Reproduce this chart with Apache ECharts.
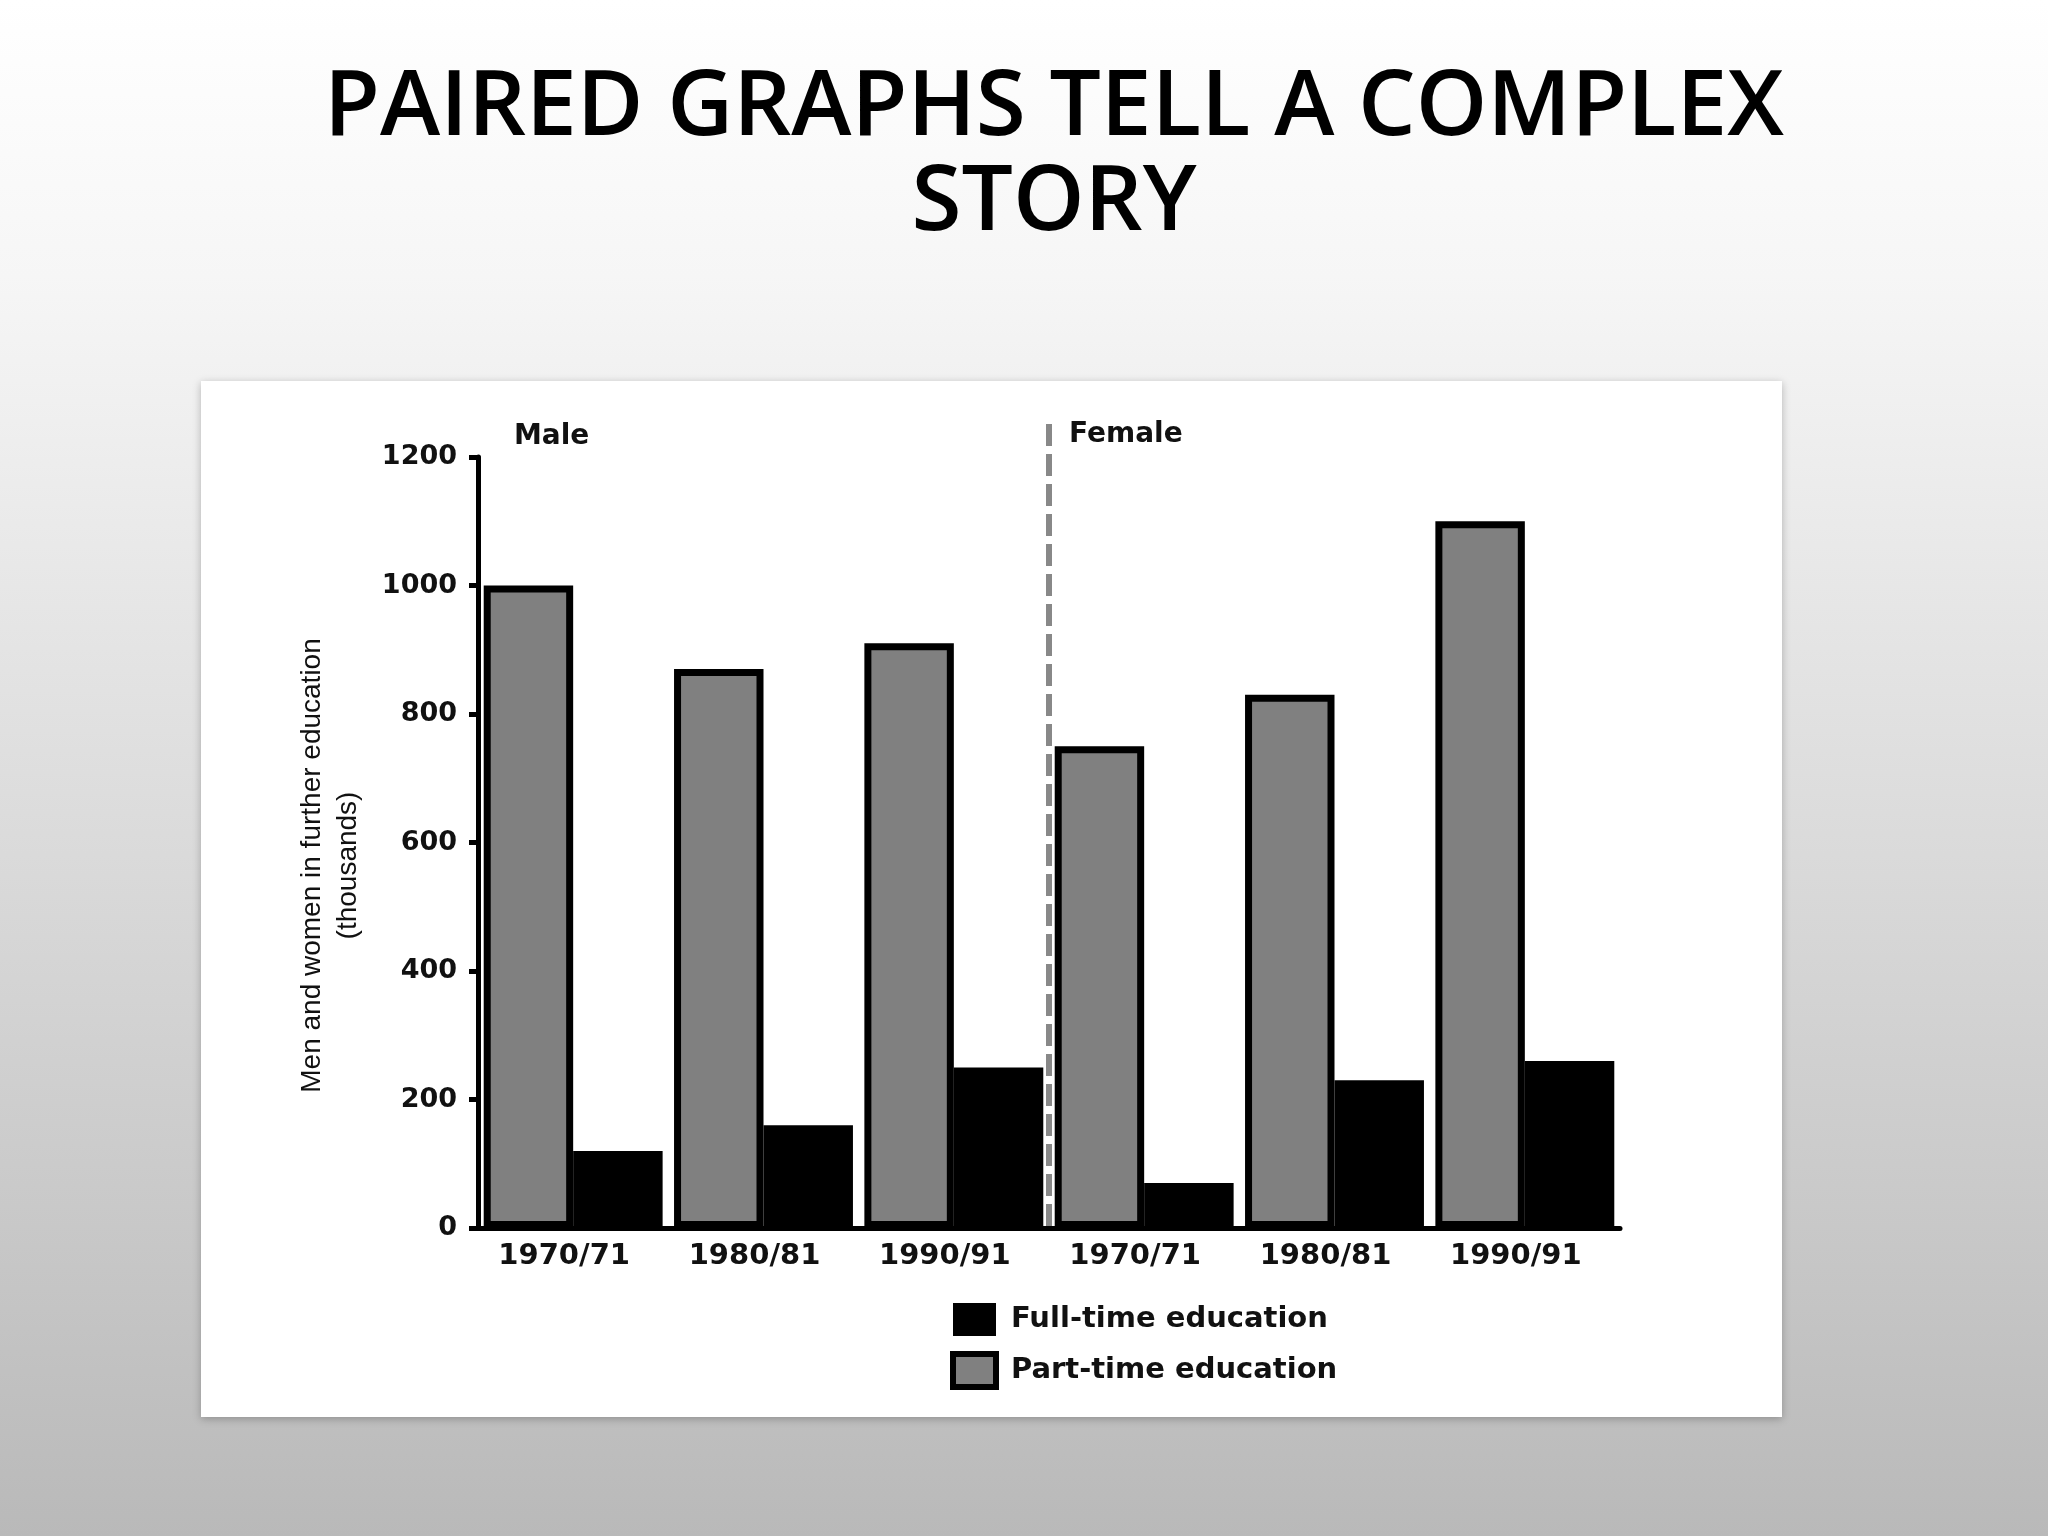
<!DOCTYPE html>
<html>
<head>
<meta charset="utf-8">
<script src="https://cdn.jsdelivr.net/npm/echarts@6/dist/echarts.min.js"></script>
<style>
  html, body { margin: 0; padding: 0; width: 2048px; height: 1536px; overflow: hidden;
    background: linear-gradient(to bottom, #ffffff 0%, #f6f6f6 18%, #b9b9b9 100%); }
  #chart { width: 2048px; height: 1536px; }
</style>
</head>
<body>
<div id="chart"></div>
<script>
// ---- data ----
const categories = ['1970/71', '1980/81', '1990/91', '1970/71', '1980/81', '1990/91'];
const groupLabels = ['Male', 'Female'];
const partTime = [1000, 870, 910, 750, 830, 1100];
const fullTime = [120, 160, 250, 70, 230, 260];
const yTicks = { min: 0, max: 1200, interval: 200 };
const titleText = 'PAIRED GRAPHS TELL A COMPLEX\nSTORY';
const yAxisName = 'Men and women in further education\n(thousands)';

const chart = echarts.init(document.getElementById('chart'));
const boldFont = "'DejaVu Sans', Verdana, sans-serif";
const nameFont = "'Liberation Sans', Arial, sans-serif";

const option = {
  animation: false,
  title: {
    text: titleText,
    left: 1049,
    top: 57,
    textAlign: 'center',
    textStyle: {
      fontFamily: "'Open Sans', 'Noto Sans', sans-serif",
      fontSize: 91,
      fontWeight: 600,
      lineHeight: 95,
      color: '#000'
    }
  },
  graphic: [{
    type: 'rect', z: -10, silent: true,
    shape: { x: 201, y: 381, width: 1581, height: 1036 },
    style: { fill: '#ffffff', shadowBlur: 8, shadowColor: 'rgba(0,0,0,0.25)', shadowOffsetY: 2 }
  }],
  grid: { left: 478, right: 428, top: 457, bottom: 308, containLabel: false },
  legend: {
    orient: 'vertical',
    left: 945, top: 1298,
    itemWidth: 43, itemHeight: 33, itemGap: 15,
    icon: 'rect',
    data: [
      { name: 'Full-time education', itemStyle: { color: '#000', borderWidth: 0 } },
      { name: 'Part-time education', itemStyle: { color: '#808080', borderColor: '#000', borderWidth: 6 } }
    ],
    textStyle: { fontFamily: boldFont, fontSize: 29, fontWeight: 'bold', color: '#111', padding: [0, 0, 0, 10] }
  },
  xAxis: {
    type: 'category',
    data: categories,
    axisLine: { lineStyle: { color: '#000', width: 5 } },
    axisTick: { show: false },
    axisLabel: { fontFamily: boldFont, fontSize: 29, fontWeight: 'bold', color: '#111', margin: 14, interval: 0, padding: [0, 18, 0, 0] }
  },
  yAxis: {
    type: 'value',
    min: yTicks.min, max: yTicks.max, interval: yTicks.interval,
    name: yAxisName,
    nameLocation: 'middle',
    nameGap: 112,
    nameRotate: 90,
    nameTextStyle: { fontFamily: nameFont, fontSize: 28, color: '#111', lineHeight: 36, padding: [0, 46, 0, 0] },
    axisLine: { show: true, lineStyle: { color: '#000', width: 5 } },
    axisTick: { show: true, length: 9, lineStyle: { color: '#000', width: 5 } },
    splitLine: { show: false },
    axisLabel: {
      fontFamily: boldFont, fontSize: 27, fontWeight: 'bold', color: '#111', margin: 21,
      formatter: v => String(v)
    }
  },
  series: [
    {
      name: 'Part-time education', type: 'bar',
      data: partTime,
      barWidth: '47%', barGap: '0%',
      itemStyle: { color: '#808080', borderColor: '#000', borderWidth: 7 }
    },
    {
      name: 'Full-time education', type: 'bar',
      data: fullTime,
      barWidth: '47%', barGap: '0%',
      itemStyle: { color: '#000' }
    }
  ]
};
chart.setOption(option);

// separator between the Male and Female groups, and group labels
const p2 = chart.convertToPixel({ xAxisIndex: 0 }, 2);
const p3 = chart.convertToPixel({ xAxisIndex: 0 }, 3);
const sepX = (p2 + p3) / 2;
const y0 = chart.convertToPixel({ yAxisIndex: 0 }, 0);
const yTop = chart.convertToPixel({ yAxisIndex: 0 }, yTicks.max);
const gridLeft = chart.convertToPixel({ xAxisIndex: 0 }, 0) - (p3 - p2) / 2;

chart.setOption({
  graphic: [
    option.graphic[0],
    {
      type: 'line', z: 5, silent: true,
      shape: { x1: sepX, y1: yTop - 33, x2: sepX, y2: y0 },
      style: { stroke: '#888888', lineWidth: 6, lineDash: [22, 8] }
    },
    {
      type: 'text', z: 5, silent: true,
      x: gridLeft + 36, y: yTop - 20,
      style: { text: groupLabels[0], font: "bold 28px 'DejaVu Sans', Verdana, sans-serif", fill: '#111', textVerticalAlign: 'middle' }
    },
    {
      type: 'text', z: 5, silent: true,
      x: sepX + 20, y: yTop - 22,
      style: { text: groupLabels[1], font: "bold 28px 'DejaVu Sans', Verdana, sans-serif", fill: '#111', textVerticalAlign: 'middle' }
    }
  ]
});
</script>
</body>
</html>
